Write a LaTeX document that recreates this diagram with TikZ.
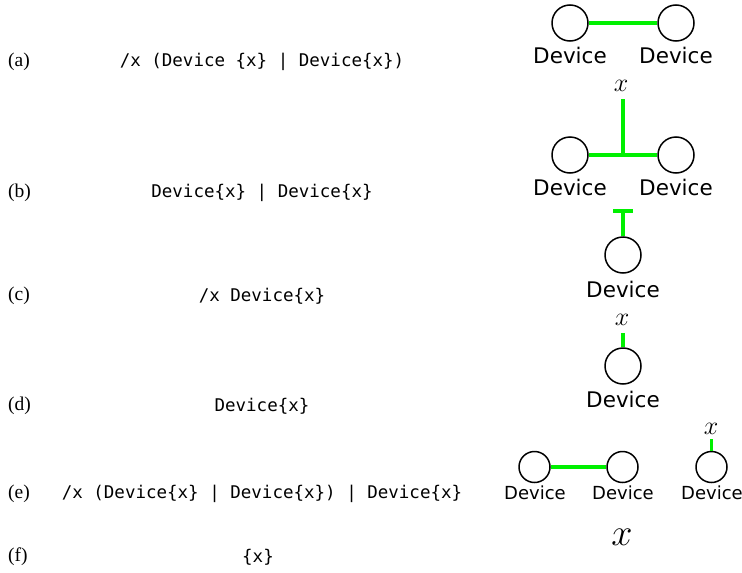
\documentclass[tikz,border=0pt]{standalone}
\usepackage{fix-cm}
\usepackage{fontspec}
\setmainfont{Liberation Serif}
\newfontfamily\codefont{DejaVu Sans Mono}
\newfontfamily\devfont{DejaVu Sans}
\begin{document}
\begin{tikzpicture}[x=1pt,y=-1pt,
  lbl/.style={anchor=west,inner sep=0pt,font=\fontsize{19.5}{22}\selectfont},
  code/.style={inner sep=0pt,font=\codefont\fontsize{17.5}{20}\selectfont},
  dev/.style={circle,draw=black,line width=1.5pt,minimum size=36pt,inner sep=0pt},
  sdev/.style={circle,draw=black,line width=1.5pt,minimum size=31pt,inner sep=0pt},
  dname/.style={inner sep=0pt,font=\devfont\fontsize{21.5}{24}\selectfont},
  sname/.style={inner sep=0pt,font=\devfont\fontsize{18}{20}\selectfont},
  var/.style={inner sep=0pt,font=\fontsize{26}{28}\selectfont},
  bigvar/.style={inner sep=0pt,font=\fontsize{38}{40}\selectfont},
  link/.style={draw={rgb,255:red,0;green,240;blue,0},line width=3.5pt}]
\useasboundingbox (0,0) rectangle (742,573);
% labels
\node[lbl] (la) at (8,62) {(a)};
\node[lbl] (lb) at (8,193) {(b)};
\node[lbl] (lc) at (8,296) {(c)};
\node[lbl] (ld) at (8,406) {(d)};
\node[lbl] (le) at (8,494) {(e)};
\node[lbl] (lf) at (8,557) {(f)};
% code
\node[code] (ca) at (262,62) {/x (Device \{x\} | Device\{x\})};
\node[code] (cb) at (262,193) {Device\{x\} | Device\{x\}};
\node[code] (cc) at (262,296) {/x Device\{x\}};
\node[code] (cd) at (262,406) {Device\{x\}};
\node[code] (ce) at (262,494) {/x (Device\{x\} | Device\{x\}) | Device\{x\}};
\node[code] (cf) at (258,557) {\{x\}};
% (a)
\node[dev] (a1) at (570,23) {};
\node[dev] (a2) at (676,23) {};
\node[dname] (a1n) at (570,55) {Device};
\node[dname] (a2n) at (676,55) {Device};
\draw[link] (a1) -- (a2);
% (b)
\node[var] (bx) at (621,86) {$x$};
\node[dev] (b1) at (570,155) {};
\node[dev] (b2) at (676,155) {};
\node[dname] (b1n) at (570,187) {Device};
\node[dname] (b2n) at (676,187) {Device};
\coordinate (bj) at (623,155);
\coordinate (bt) at (623,99);
\draw[link] (b1) -- (b2);
\draw[link] (bt) -- (bj);
% (c)
\node[dev] (c1) at (623,255) {};
\node[dname] (c1n) at (623,289) {Device};
\coordinate (ct) at (623,211);
\coordinate (ctl) at (613,211);
\coordinate (ctr) at (633,211);
\draw[link] (c1) -- (ct);
\draw[link] (ctl) -- (ctr);
% (d)
\node[var] (dx) at (622,320) {$x$};
\node[dev] (d1) at (623,366) {};
\node[dname] (d1n) at (623,399) {Device};
\coordinate (dt) at (623,333);
\draw[link] (d1) -- (dt);
% (e)
\node[sdev] (e1) at (534.5,467) {};
\node[sdev] (e2) at (622.5,467) {};
\node[sdev] (e3) at (711.5,467) {};
\node[sname] (e1n) at (535,493) {Device};
\node[sname] (e2n) at (623,493) {Device};
\node[sname] (e3n) at (712,493) {Device};
\node[var] (ex) at (711,429) {$x$};
\coordinate (et) at (711.5,439);
\draw[link] (e1) -- (e2);
\draw[link] (e3) -- (et);
% (f)
\node[bigvar] (fx) at (622,537) {$x$};
\end{tikzpicture}
\end{document}
